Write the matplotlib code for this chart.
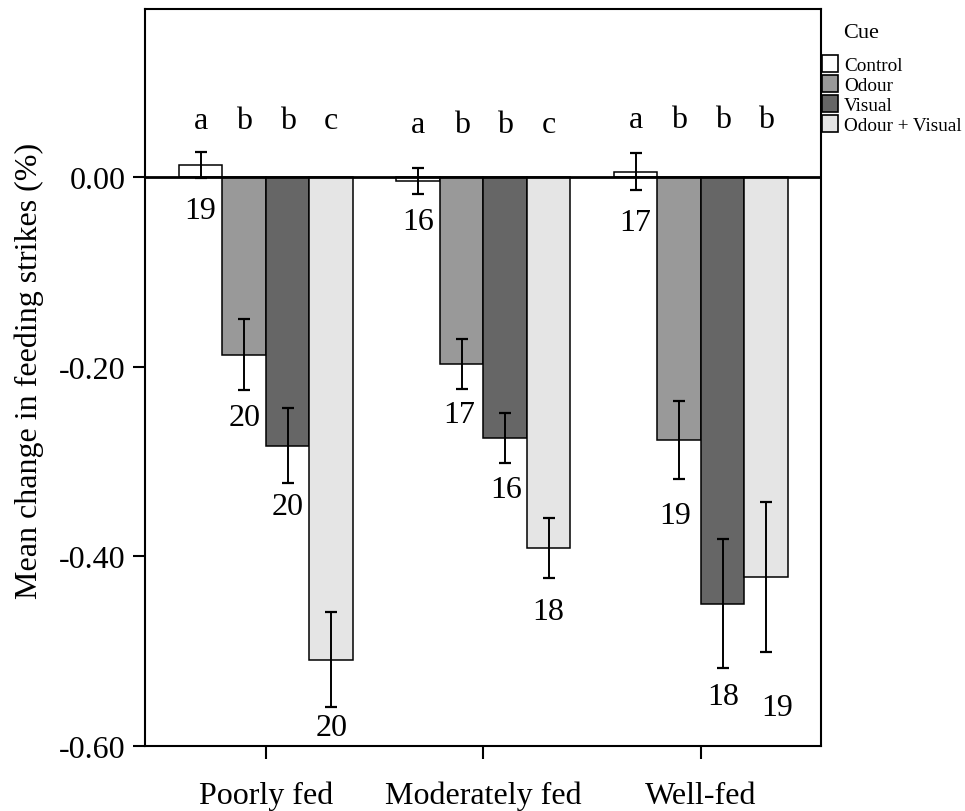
import matplotlib
matplotlib.use('Agg')
import matplotlib.pyplot as plt
import numpy as np
from matplotlib.patches import Patch

plt.rcParams['font.family'] = ['Liberation Serif', 'DejaVu Serif']
plt.rcParams['axes.unicode_minus'] = False

# ---------------- data ----------------
groups = ['Poorly fed', 'Moderately fed', 'Well-fed']
cues = ['Control', 'Odour', 'Visual', 'Odour + Visual']

control_mean = [0.013, -0.004, 0.006]
odour_mean = [-0.187, -0.197, -0.277]
visual_mean = [-0.283, -0.275, -0.450]
ov_mean = [-0.509, -0.391, -0.422]

control_err = [0.014, 0.014, 0.0195]
odour_err = [0.037, 0.026, 0.0415]
visual_err = [0.040, 0.026, 0.068]
ov_err = [0.050, 0.032, 0.079]

control_n = [19, 16, 17]
odour_n = [20, 17, 19]
visual_n = [20, 16, 18]
ov_n = [20, 18, 19]

letters_poor = ['a', 'b', 'b', 'c']
letters_mod = ['a', 'b', 'b', 'c']
letters_well = ['a', 'b', 'b', 'b']

yticks = [0.0, -0.2, -0.4, -0.6]
ytick_labels = ['0.00', '-0.20', '-0.40', '-0.60']

# ---------------- style / layout ----------------
colors = ['#ffffff', '#999999', '#666666', '#e5e5e5']
bar_w = 0.2
# gap (px) between lower error-bar end and n label centre, per cue row x group
n_gap_px = [[32, 27, 32], [28, 26, 36], [23, 27, 28], [20, 33, 55]]
n_dx_px = [[0, 0, 0], [0, -2, -4], [0, 1, 0], [0, 0, 11]]
letter_y = [0.052, 0.0475, 0.053]

means = [control_mean, odour_mean, visual_mean, ov_mean]
errs = [control_err, odour_err, visual_err, ov_err]
ns = [control_n, odour_n, visual_n, ov_n]
letters = [letters_poor, letters_mod, letters_well]

fig = plt.figure(figsize=(9.65, 8.12), dpi=100)
ax = fig.add_axes([145/965, 1-747/812, (821-145)/965, (747-10)/812])

x = np.arange(len(groups))
for i, cue in enumerate(cues):
    xs = x + (i - 1.5) * bar_w
    ax.bar(xs, means[i], width=bar_w, color=colors[i], edgecolor='black',
           linewidth=1.1, zorder=2, label=cue)
    ax.errorbar(xs, means[i], yerr=errs[i], fmt='none', ecolor='black',
                elinewidth=1.4, capsize=4, capthick=1.6, zorder=3)
    for g in range(len(groups)):
        low = means[i][g] - errs[i][g]
        ax.annotate(str(ns[i][g]), xy=(xs[g], low),
                    xytext=(n_dx_px[i][g]*0.72, -n_gap_px[i][g]*0.72),
                    textcoords='offset points', ha='center', va='center',
                    fontsize=23, zorder=4)

for g in range(len(groups)):
    for i in range(len(cues)):
        ax.text(x[g] + (i - 1.5) * bar_w, letter_y[g], letters[g][i],
                ha='center', va='baseline', fontsize=23)

ax.axhline(0, color='black', linewidth=2.0, zorder=3)

ax.set_xlim(-0.556, 2.552)
ax.set_ylim(-0.6, 0.1776)
ax.set_yticks(yticks)
ax.set_yticklabels(ytick_labels)
ax.set_xticks(x)
ax.set_xticklabels(groups)
ax.tick_params(axis='both', direction='out', length=9, width=1.5,
               labelsize=23, color='black')
ax.tick_params(axis='x', pad=16)
ax.tick_params(axis='y', pad=5)
for sp in ax.spines.values():
    sp.set_linewidth(1.5)

ax.set_ylabel('Mean change in feeding strikes (%)', fontsize=23)
ax.yaxis.set_label_coords(-0.150, 0.510)

handles = [Patch(facecolor=c, edgecolor='black', linewidth=1.2) for c in colors]
fig.text(843/965, 1-34/812, 'Cue', fontsize=16, ha='left', va='center')
fig.legend(handles, cues, loc='upper left', bbox_to_anchor=(822/965, 1-56/812),
           frameon=False, fontsize=13.8, handlelength=0.85, handleheight=1.0,
           handletextpad=0.3, labelspacing=0.05, borderpad=0, borderaxespad=0)

fig.savefig('out.png', dpi=100)
